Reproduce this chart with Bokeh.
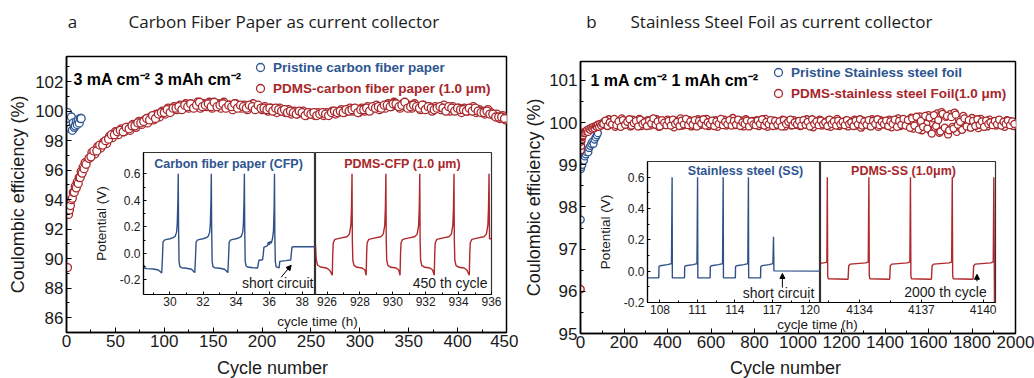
from bokeh.plotting import figure
from bokeh.models import (Label, Legend, LegendItem, SingleIntervalTicker, FixedTicker,
                          PrintfTickFormatter, Arrow, NormalHead, Range1d)
from bokeh.embed import file_html
from bokeh.resources import INLINE

RED = "#a8262a"
BLUE = "#2e5590"
LRED = "#b0282c"
LBLUE = "#2f5188"
FONT = "Liberation Sans"
TFONT = "Open Sans"

# ---------------- main-panel data (Coulombic efficiency, %) ----------------
cfp_pristine_cycle = list(range(1, 16))
cfp_pristine_ce = [99.9, 99.4, 99.0, 98.8, 99.6, 98.7, 99.2, 98.9, 99.0, 99.3, 99.1, 99.4, 99.2, 99.5, 99.5]

cfp_pdms_cycle = list(range(1, 21)) + list(range(23, 450, 3))
cfp_pdms_ce = [
    89.4, 93.0, 93.3, 93.6, 94.0, 94.1, 94.5, 94.5, 94.9, 94.8,
    95.2, 95.1, 95.5, 95.5, 95.9, 95.8, 96.2, 96.1, 96.5, 96.4,
    96.8, 97.2, 97.1, 97.6, 97.5, 97.9, 97.8, 98.3, 98.2, 98.6,
    98.4, 98.8, 98.6, 98.9, 98.7, 99.1, 98.9, 99.3, 99.1, 99.4,
    99.2, 99.6, 99.4, 99.8, 99.6, 100.0, 99.8, 100.2, 100.0, 100.3,
    100.1, 100.4, 100.2, 100.5, 100.2, 100.4, 100.3, 100.6, 100.2, 100.5,
    100.3, 100.6, 100.2, 100.4, 100.5, 100.2, 100.6, 100.3, 100.4, 100.1,
    100.5, 100.3, 100.2, 100.4, 100.1, 100.3, 100.5, 100.2, 100.3, 100.1,
    100.3, 100.0, 100.2, 100.1, 99.9, 100.2, 100.0, 99.9, 100.1, 99.8,
    100.0, 99.8, 99.9, 100.0, 99.7, 99.9, 99.8, 99.7, 99.9, 99.8,
    99.7, 99.9, 99.8, 100.0, 99.8, 99.9, 100.1, 99.9, 100.0, 100.2,
    100.0, 100.1, 99.9, 100.2, 100.0, 100.3, 100.1, 100.2, 100.4, 100.1,
    100.3, 100.2, 100.5, 100.3, 100.6, 100.4, 100.2, 100.5, 100.3, 100.4,
    100.2, 100.5, 100.3, 100.1, 100.4, 100.2, 100.3, 100.0, 100.3, 100.2,
    100.1, 100.4, 100.2, 100.0, 100.3, 100.1, 100.2, 99.9, 100.2, 100.0,
    100.1, 100.3, 99.9, 100.1, 100.0, 99.8, 100.1, 99.9, 99.7, 99.8,
    99.5, 99.7, 99.4,
]
cfp_pdms_cycle2 = list(range(25, 449, 3))
cfp_pdms_ce2 = [
    96.9, 97.3, 97.3, 97.7, 97.7, 98.0, 98.1, 98.4, 98.4, 98.6,
    98.7, 98.6, 98.9, 98.8, 99.0, 99.0, 99.2, 99.2, 99.3, 99.5,
    99.4, 99.7, 99.5, 99.8, 99.9, 99.9, 100.1, 99.9, 100.2, 100.2,
    100.3, 100.1, 100.4, 100.3, 100.5, 100.2, 100.4, 100.6, 100.3, 100.4,
    100.5, 100.3, 100.6, 100.3, 100.4, 100.5, 100.2, 100.4, 100.3, 100.5,
    100.2, 100.4, 100.3, 100.2, 100.4, 100.3, 100.1, 100.4, 100.2, 100.2,
    100.1, 100.2, 100.0, 100.2, 100.1, 100.0, 100.1, 99.9, 100.0, 99.9,
    99.8, 100.0, 99.9, 99.7, 99.9, 99.8, 99.9, 99.7, 99.8, 99.9,
    99.8, 99.7, 99.9, 100.0, 99.9, 100.0, 99.9, 100.1, 100.0, 100.1,
    100.2, 99.9, 100.1, 100.1, 100.2, 100.0, 100.3, 100.2, 100.3, 100.2,
    100.4, 100.4, 100.3, 100.5, 100.5, 100.3, 100.4, 100.6, 100.2, 100.3,
    100.4, 100.3, 100.2, 100.4, 100.1, 100.3, 100.2, 100.1, 100.2, 100.3,
    100.2, 100.0, 100.3, 100.2, 100.0, 100.2, 100.1, 100.1, 100.0, 100.2,
    100.0, 100.2, 100.0, 99.9, 99.9, 100.0, 99.8, 99.8, 99.6, 99.6,
    99.6, 99.5,
]

ss_pristine_cycle = [1, 2, 4, 6, 8, 10, 13, 16, 20, 24, 28, 32, 36, 40, 45, 50, 55, 60, 65, 70, 75, 80]
ss_pristine_ce = [97.7, 98.9, 98.95, 99.05, 99.0, 99.1, 99.15, 99.1, 99.2, 99.25, 99.3,
                  99.35, 99.3, 99.4, 99.45, 99.5, 99.55, 99.5, 99.6, 99.65, 99.7, 99.75]

ss_pdms_cycle = ([1, 2, 3, 4, 5, 6, 8, 10, 12, 15, 18, 21, 25, 30, 35, 40, 45, 50, 55, 60,
                  65, 70, 75, 80, 85, 90, 95, 100] + list(range(110, 2001, 10)))
ss_pdms_ce = [
    96.05, 99.35, 99.45, 99.55, 99.6, 99.65, 99.68, 99.72, 99.7, 99.75,
    99.78, 99.76, 99.8, 99.82, 99.78, 99.85, 99.83, 99.88, 99.86, 99.9,
    99.87, 99.92, 99.9, 99.95, 99.9, 99.97, 99.93, 99.98,
    100.02, 99.93, 100.08, 99.97, 100.05, 99.90, 100.03, 99.96, 100.10, 99.94,
    100.04, 99.98, 99.91, 100.07, 100.00, 99.95, 100.09, 99.92, 100.03, 99.97,
    100.06, 99.93, 100.01, 99.96, 100.08, 99.90, 100.04, 99.99, 99.94, 100.07,
    99.96, 100.03, 99.89, 100.05, 99.98, 100.10, 99.93, 100.02, 99.95, 100.06,
    99.91, 100.04, 99.97, 100.08, 99.94, 100.01, 99.96, 100.09, 99.92, 100.03,
    99.98, 100.06, 99.90, 100.02, 99.95, 100.07, 99.93, 100.04, 99.97, 100.11,
    99.94, 100.02, 99.96, 100.05, 99.91, 100.08, 99.99, 99.93, 100.04, 99.97,
    100.06, 99.92, 100.03, 99.95, 100.09, 99.90, 100.01, 99.97, 100.05, 99.93,
    100.02, 99.96, 100.07, 99.91, 100.04, 99.98, 99.93, 100.06, 99.95, 100.03,
    99.92, 100.05, 99.97, 100.08, 99.94, 100.01, 99.89, 100.04, 99.96, 100.07,
    99.93, 100.02, 99.97, 100.06, 99.90, 100.04, 99.95, 100.09, 99.92, 100.01,
    99.96, 100.05, 99.91, 100.03, 99.98, 100.07, 99.93, 100.02, 99.88, 100.05,
    99.97, 100.04, 99.92, 100.08, 99.95, 100.01, 99.90, 100.06, 99.96, 100.03,
    99.93, 100.07, 99.89, 100.04, 99.97, 100.10, 99.92, 100.02, 99.95, 100.06,
    99.91, 100.12, 99.86, 100.05, 99.94, 100.15, 99.82, 100.08, 99.97, 100.18,
    99.80, 100.10, 99.88, 100.22, 99.76, 100.25, 99.84, 100.14, 99.72, 100.20,
    99.90, 100.24, 99.78, 100.08, 99.85, 100.16, 99.93, 100.05, 99.89, 100.11,
    99.94, 100.06, 99.87, 100.09, 99.96, 100.03, 99.91, 100.07, 99.95, 100.02,
    99.93, 100.05, 99.97, 100.01, 99.90, 100.06, 99.95, 100.03, 99.92, 99.98,
]
ss_pdms_cycle2 = list(range(105, 2000, 10))
ss_pdms_ce2 = [
    99.97, 100.05, 99.92, 100.01, 99.96, 100.09, 99.94, 100.03, 99.90, 100.06,
    99.95, 100.02, 100.08, 99.93, 99.99, 100.04, 99.91, 100.07, 99.97, 100.01,
    99.92, 100.05, 99.98, 100.10, 99.95, 100.03, 99.91, 100.06, 100.00, 99.94,
    100.04, 99.93, 100.07, 99.97, 100.02, 99.92, 100.05, 99.96, 100.09, 99.94,
    100.03, 99.95, 100.06, 99.91, 100.04, 99.98, 100.08, 99.93, 100.01, 99.96,
    100.05, 99.92, 100.03, 99.97, 100.09, 99.94, 100.02, 99.96, 100.06, 99.93,
    100.04, 99.95, 100.07, 99.92, 100.01, 99.97, 100.05, 99.91, 100.03, 99.96,
    99.94, 100.05, 99.97, 100.08, 99.93, 100.02, 99.96, 100.06, 99.92, 100.04,
    99.95, 100.03, 99.91, 100.06, 99.97, 100.02, 100.07, 99.94, 100.01, 99.96,
    100.04, 99.93, 100.06, 99.95, 100.02, 99.91, 100.08, 99.97, 100.03, 99.94,
    100.05, 99.96, 100.01, 99.92, 100.07, 99.97, 100.03, 99.93, 100.05, 99.96,
    100.02, 99.94, 100.06, 99.97, 100.01, 99.92, 100.05, 99.96, 100.08, 99.93,
    100.03, 99.95, 100.06, 99.91, 100.04, 99.97, 100.08, 99.94, 100.02, 99.96,
    100.05, 99.92, 100.03, 99.97, 100.07, 99.90, 100.04, 99.95, 100.09, 99.93,
    100.06, 99.88, 100.10, 99.93, 100.14, 99.84, 100.04, 99.90, 100.16, 99.86,
    100.12, 99.74, 100.18, 99.92, 100.06, 99.79, 100.21, 99.88, 100.16, 99.82,
    100.13, 99.86, 100.19, 99.95, 100.02, 99.83, 100.10, 99.91, 100.06, 99.88,
    100.04, 99.92, 100.08, 99.95, 100.03, 99.90, 100.05, 99.97, 100.01, 99.94,
    100.04, 99.96, 100.07, 99.93, 100.02, 99.97, 100.05, 99.94, 100.03, 99.97,
]

# ---------------- inset data (potential V vs cycle time h) ----------------
cfp_time = [28.40, 28.44, 28.48, 28.60, 29.00, 29.30, 29.42, 29.50,
            29.54, 29.58, 29.66, 29.80, 30.00, 30.20, 30.32, 30.40, 30.44, 30.48, 30.50,
            30.52, 30.55, 30.60, 30.70, 31.00, 31.30, 31.42, 31.50,
            31.54, 31.58, 31.66, 31.80, 32.00, 32.20, 32.32, 32.40, 32.44, 32.48, 32.50,
            32.52, 32.55, 32.60, 32.70, 33.00, 33.30, 33.42, 33.50,
            33.54, 33.58, 33.66, 33.80, 34.00, 34.20, 34.32, 34.40, 34.44, 34.48, 34.50,
            34.52, 34.55, 34.60, 34.70, 35.00, 35.30, 35.34, 35.38, 35.60, 35.64, 35.68,
            35.80, 35.90, 35.95, 36.00, 36.05, 36.12, 36.20, 36.26, 36.30, 36.32, 36.34,
            36.37, 36.42, 36.55, 36.60, 36.64, 37.00, 37.30, 37.34, 37.38, 37.50, 38.80]
cfp_volt = [-0.105, -0.090, -0.112, -0.115, -0.118, -0.125, -0.138, -0.148,
            -0.050, 0.085, 0.100, 0.105, 0.110, 0.118, 0.130, 0.160, 0.220, 0.400, 0.600,
            0.200, -0.060, -0.100, -0.108, -0.112, -0.120, -0.135, -0.145,
            -0.040, 0.085, 0.100, 0.105, 0.110, 0.118, 0.130, 0.160, 0.220, 0.400, 0.600,
            0.200, -0.060, -0.100, -0.108, -0.112, -0.120, -0.135, -0.145,
            -0.040, 0.085, 0.100, 0.105, 0.110, 0.118, 0.130, 0.160, 0.220, 0.400, 0.600,
            0.200, -0.060, -0.095, -0.103, -0.108, -0.110, -0.080, -0.052, -0.048, -0.010, 0.045,
            0.052, 0.058, 0.085, 0.065, 0.090, 0.075, 0.110, 0.170, 0.350, 0.600, 0.150,
            -0.060, -0.100, -0.108, -0.110, -0.060, -0.055, -0.050, 0.000, 0.048, 0.050, 0.050]

pcfp_time = [925.30, 925.34, 925.42, 925.60, 925.95, 926.12, 926.20,
             926.32, 926.35, 926.38, 926.48, 926.80, 927.21, 927.36, 927.45, 927.49, 927.52,
             927.54, 927.57, 927.64, 927.82, 928.14, 928.30,
             928.38, 928.41, 928.44, 928.54, 928.86, 929.27, 929.42, 929.51, 929.55, 929.58,
             929.60, 929.63, 929.70, 929.88, 930.20, 930.36,
             930.44, 930.47, 930.50, 930.60, 930.92, 931.33, 931.48, 931.57, 931.61, 931.64,
             931.66, 931.69, 931.76, 931.94, 932.26, 932.42,
             932.52, 932.55, 932.58, 932.68, 933.00, 933.41, 933.56, 933.65, 933.69, 933.72,
             933.74, 933.77, 933.84, 934.02, 934.34, 934.50,
             934.65, 934.68, 934.71, 934.81, 935.13, 935.54, 935.69, 935.78, 935.82, 935.85,
             935.88, 936.00]
pcfp_volt = [0.060, -0.040, -0.088, -0.103, -0.110, -0.122, -0.135,
             -0.165, 0.000, 0.080, 0.105, 0.115, 0.125, 0.145, 0.210, 0.350, 0.600,
             0.100, -0.050, -0.090, -0.105, -0.110, -0.125,
             -0.165, 0.000, 0.080, 0.105, 0.115, 0.125, 0.145, 0.210, 0.350, 0.600,
             0.100, -0.050, -0.090, -0.105, -0.110, -0.125,
             -0.165, 0.000, 0.080, 0.105, 0.115, 0.125, 0.145, 0.210, 0.350, 0.600,
             0.100, -0.050, -0.090, -0.105, -0.110, -0.125,
             -0.165, 0.000, 0.080, 0.105, 0.115, 0.125, 0.145, 0.210, 0.350, 0.600,
             0.100, -0.050, -0.090, -0.105, -0.110, -0.125,
             -0.165, 0.000, 0.080, 0.105, 0.115, 0.125, 0.145, 0.210, 0.350, 0.600,
             0.110, 0.110]

ss_time = [107.00, 107.90, 107.92, 108.00, 108.60, 108.92, 108.97, 108.99,
           109.96, 109.98, 110.06, 110.65, 110.96, 111.01, 111.03,
           112.01, 112.03, 112.11, 112.70, 113.01, 113.06, 113.08,
           114.03, 114.05, 114.13, 114.72, 115.03, 115.08, 115.10,
           116.05, 116.07, 116.15, 116.74, 117.04, 117.09, 117.12, 120.85]
ss_volt = [-0.043, -0.043, 0.030, 0.035, 0.042, 0.048, 0.600, -0.043,
           -0.043, 0.030, 0.035, 0.042, 0.048, 0.600, -0.043,
           -0.043, 0.030, 0.035, 0.042, 0.048, 0.600, -0.043,
           -0.043, 0.030, 0.035, 0.042, 0.048, 0.600, -0.043,
           -0.043, 0.030, 0.035, 0.042, 0.048, 0.220, 0.002, 0.000]

pss_time = [4132.10, 4132.38, 4132.41, 4132.43, 4132.45, 4132.48,
            4133.40, 4133.44, 4133.47, 4133.55, 4134.30, 4134.42, 4134.45, 4134.47, 4134.50,
            4135.42, 4135.46, 4135.49, 4135.57, 4136.32, 4136.44, 4136.47, 4136.49, 4136.52,
            4137.45, 4137.49, 4137.52, 4137.60, 4138.35, 4138.47, 4138.50, 4138.52, 4138.55,
            4139.47, 4139.51, 4139.54, 4139.62, 4140.37, 4140.49, 4140.52, 4140.55]
pss_volt = [0.050, 0.056, 0.065, 0.600, -0.030, -0.048,
            -0.052, -0.050, 0.035, 0.045, 0.053, 0.060, 0.600, -0.030, -0.048,
            -0.052, -0.050, 0.035, 0.045, 0.053, 0.060, 0.600, -0.030, -0.048,
            -0.052, -0.050, 0.035, 0.045, 0.053, 0.060, 0.600, -0.030, -0.048,
            -0.052, -0.050, 0.035, 0.045, 0.053, 0.060, 0.600, -0.200]

volt_ticks = [-0.2, 0.0, 0.2, 0.4, 0.6]
volt_minor = [-0.1, 0.1, 0.3, 0.5]

W, H = 1034, 378


def place(x, y):
    return [":host { position: absolute !important; left: %dpx !important; top: %dpx !important; }" % (x, y)]


def style_axis(ax, size, tin, minin, lw):
    ax.axis_line_width = lw
    ax.axis_line_color = "black"
    ax.major_tick_in = tin
    ax.major_tick_out = 0
    ax.minor_tick_in = minin
    ax.minor_tick_out = 0
    ax.major_tick_line_color = "black"
    ax.minor_tick_line_color = "black"
    ax.major_label_text_font = FONT
    ax.major_label_text_font_size = size
    ax.major_label_text_color = "#1a1a1a"
    ax.axis_label_text_font = FONT
    ax.axis_label_text_font_style = "normal"
    ax.axis_label_text_color = "#1a1a1a"


def lab(p, x, y, text, size, color="#1a1a1a", align="left", baseline="middle", bold=False, font=FONT):
    p.add_layout(Label(x=x, y=y, x_units="screen", y_units="screen", text=text,
                       text_font=font, text_font_size=size, text_color=color,
                       text_align=align, text_baseline=baseline,
                       text_font_style="bold" if bold else "normal"))


def main_fig(left, width, bl, frame_w, top, frame_h, xr, yr, xint, yint, yl_standoff):
    p = figure(width=width, height=H, x_range=Range1d(*xr), y_range=Range1d(*yr),
               output_backend="svg", toolbar_location=None,
               min_border_left=bl, min_border_right=width - bl - frame_w,
               min_border_top=top, min_border_bottom=H - top - frame_h,
               background_fill_color="white", border_fill_color=None,
               stylesheets=place(left, 0))
    p.xgrid.visible = False
    p.ygrid.visible = False
    p.outline_line_color = "black"
    p.outline_line_width = 1.5
    p.outline_line_alpha = 1
    p.xaxis.ticker = SingleIntervalTicker(interval=xint, num_minor_ticks=2)
    p.yaxis.ticker = SingleIntervalTicker(interval=yint, num_minor_ticks=2)
    style_axis(p.xaxis[0], "17px", 5, 3, 1.5)
    style_axis(p.yaxis[0], "17px", 5, 3, 1.5)
    p.xaxis.major_label_standoff = 2
    p.yaxis.major_label_standoff = 3
    p.yaxis.axis_label = "Coulombic efficiency (%)"
    p.yaxis.axis_label_text_font_size = "18px"
    p.yaxis.axis_label_standoff = yl_standoff
    return p


def legend(p, text, r, color, loc):
    lg = Legend(items=[LegendItem(label=text, renderers=[r])], location=loc,
                glyph_width=20, glyph_height=20, label_height=20, label_standoff=3,
                padding=0, margin=0, spacing=0, border_line_color=None,
                background_fill_alpha=0, label_text_font=FONT, label_text_font_style="bold",
                label_text_font_size="13.5px", label_text_color=color,
                label_text_baseline="middle")
    p.add_layout(lg, "center")


def inset_fig(x0, y0, w, h, xr, yr, mbl, mbr, has_y, ticks, minor):
    p = figure(width=w, height=h, x_range=Range1d(*xr), y_range=yr,
               output_backend="svg", toolbar_location=None,
               min_border_left=mbl, min_border_right=mbr, min_border_top=2, min_border_bottom=20,
               y_axis_location="left" if has_y else None,
               background_fill_color="white", border_fill_color=None,
               stylesheets=place(x0, y0))
    p.xgrid.visible = False
    p.ygrid.visible = False
    p.outline_line_color = "#333333"
    p.outline_line_width = 1.2
    p.xaxis.ticker = FixedTicker(ticks=ticks, minor_ticks=minor)
    style_axis(p.xaxis[0], "12px", 3, 2, 1.2)
    p.xaxis.major_label_standoff = 2
    if has_y:
        p.yaxis.ticker = FixedTicker(ticks=volt_ticks, minor_ticks=volt_minor)
        p.yaxis.formatter = PrintfTickFormatter(format="%.1f")
        style_axis(p.yaxis[0], "12px", 3, 2, 1.2)
        p.yaxis.major_label_standoff = 3
        p.yaxis.axis_label = "Potential (V)"
        p.yaxis.axis_label_text_font_size = "13.5px"
        p.yaxis.axis_label_standoff = 8
    return p


def arrow(p, xs, ys, xe, ye):
    p.add_layout(Arrow(end=NormalHead(size=5, fill_color="black", line_color="black", line_width=1),
                       x_start=xs, y_start=ys, x_end=xe, y_end=ye,
                       line_color="black", line_width=1))


# ---------------- panel a ----------------
pa = main_fig(0, 518, 66, 440, 56, 276, (0, 450), (85, 103.7), 50, 2, 4)
ra_b = pa.scatter(cfp_pristine_cycle, cfp_pristine_ce, marker="circle", size=8,
                  line_color=BLUE, fill_color="white", line_width=1.3)
ra_r = pa.scatter(cfp_pdms_cycle + cfp_pdms_cycle2, cfp_pdms_ce + cfp_pdms_ce2, marker="circle", size=8,
                  line_color=RED, fill_color="white", line_width=1.3)
legend(pa, "Pristine carbon fiber paper", ra_b, BLUE, (184, 255))
legend(pa, "PDMS-carbon fiber paper (1.0 \u03bcm)", ra_r, RED, (184, 234))
lab(pa, 7, 253, "3 mA cm\u207b\u00b2 3 mAh cm\u207b\u00b2", "16px", color="black", bold=True)
lab(pa, 251, 11, "cycle time (h)", "13.5px", align="center")

# ---------------- panel b ----------------
pb = main_fig(518, 516, 62, 435, 61, 272, (0, 2000), (95, 101.45), 200, 1, 2)
rb_b = pb.scatter(ss_pristine_cycle, ss_pristine_ce, marker="circle", size=7,
                  line_color=BLUE, fill_color="white", line_width=1.3)
rb_r = pb.scatter(ss_pdms_cycle + ss_pdms_cycle2, ss_pdms_ce + ss_pdms_ce2, marker="circle", size=7,
                  line_color=RED, fill_color="white", line_width=1.3)
legend(pb, "Pristine Stainless steel foil", rb_b, BLUE, (188, 251))
legend(pb, "PDMS-stainless steel Foil(1.0 \u03bcm)", rb_r, RED, (188, 230))
lab(pb, 10, 253, "1 mA cm\u207b\u00b2 1 mAh cm\u207b\u00b2", "16px", color="black", bold=True)
lab(pb, 237, 9, "cycle time (h)", "13.5px", align="center")

# ---------------- insets a ----------------
yra = Range1d(-0.31, 0.76)
ia_l = inset_fig(90, 150, 225, 164, (28.4, 38.8), yra, 50, 0, True,
                 [30, 32, 34, 36, 38], [29, 31, 33, 35, 37])
ia_l.line(cfp_time, cfp_volt, line_color=LBLUE, line_width=1.4)
lab(ia_l, 85, 131, "Carbon fiber paper (CFP)", "12.5px", color=BLUE, align="center", bold=True)
lab(ia_l, 170, 12, "short circuit", "14px", align="right")
arrow(ia_l, 36.72, -0.18, 37.33, -0.09)

ia_r = inset_fig(315, 150, 190, 164, (925.3, 936.0), yra, 0, 14, False,
                 [926, 928, 930, 932, 934, 936], [927, 929, 931, 933, 935])
ia_r.line(pcfp_time, pcfp_volt, line_color=LRED, line_width=1.4)
lab(ia_r, 87, 131, "PDMS-CFP (1.0 \u03bcm)", "12.5px", color=RED, align="center", bold=True)
lab(ia_r, 172, 12, "450 th cycle", "14px", align="right")

# ---------------- insets b ----------------
yrb = Range1d(-0.2, 0.70)
ib_l = inset_fig(594, 159, 226, 163, (107, 120.85), yrb, 50, 0, True,
                 [108, 111, 114, 117, 120], [109.5, 112.5, 115.5, 118.5])
ib_l.line(ss_time, ss_volt, line_color=LBLUE, line_width=1.4)
lab(ib_l, 98, 132, "Stainless steel (SS)", "12.5px", color=BLUE, align="center", bold=True)
lab(ib_l, 131, 10, "short circuit", "14px", align="center")
arrow(ib_l, 117.8, -0.105, 117.8, -0.015)

ib_r = inset_fig(820, 159, 189, 163, (4132.1, 4140.6), yrb, 0, 14, False,
                 [4134, 4137, 4140], [4132.5, 4135.5, 4138.5])
ib_r.line(pss_time, pss_volt, line_color=LRED, line_width=1.4)
lab(ib_r, 83, 132, "PDMS-SS (1.0\u03bcm)", "12.5px", color=RED, align="center", bold=True)
lab(ib_r, 125, 11, "2000 th cycle", "14px", align="center")
arrow(ib_r, 4139.7, -0.065, 4139.7, -0.02)

# ---------------- text overlay (titles, x-axis titles) ----------------
ov = figure(width=W, height=H, x_range=Range1d(0, W), y_range=Range1d(0, H),
            output_backend="svg", toolbar_location=None,
            x_axis_location=None, y_axis_location=None, min_border=0,
            min_border_left=0, min_border_right=0, min_border_top=0, min_border_bottom=0,
            outline_line_color=None, background_fill_color=None, border_fill_color=None,
            stylesheets=place(0, 0))
ov.xgrid.visible = False
ov.ygrid.visible = False
lab(ov, 72, H - 21, "a", "17px", align="center", font=TFONT)
lab(ov, 128, H - 21, "Carbon Fiber Paper as current collector", "17px", font=TFONT)
lab(ov, 591, H - 21, "b", "17px", align="center", font=TFONT)
lab(ov, 630, H - 21, "Stainless Steel Foil as current collector", "17px", font=TFONT)
lab(ov, 272, H - 367, "Cycle number", "18px", align="center")
lab(ov, 785, H - 367, "Cycle number", "18px", align="center")

open("out.html", "w").write(file_html([pa, pb, ia_l, ia_r, ib_l, ib_r, ov], INLINE))
